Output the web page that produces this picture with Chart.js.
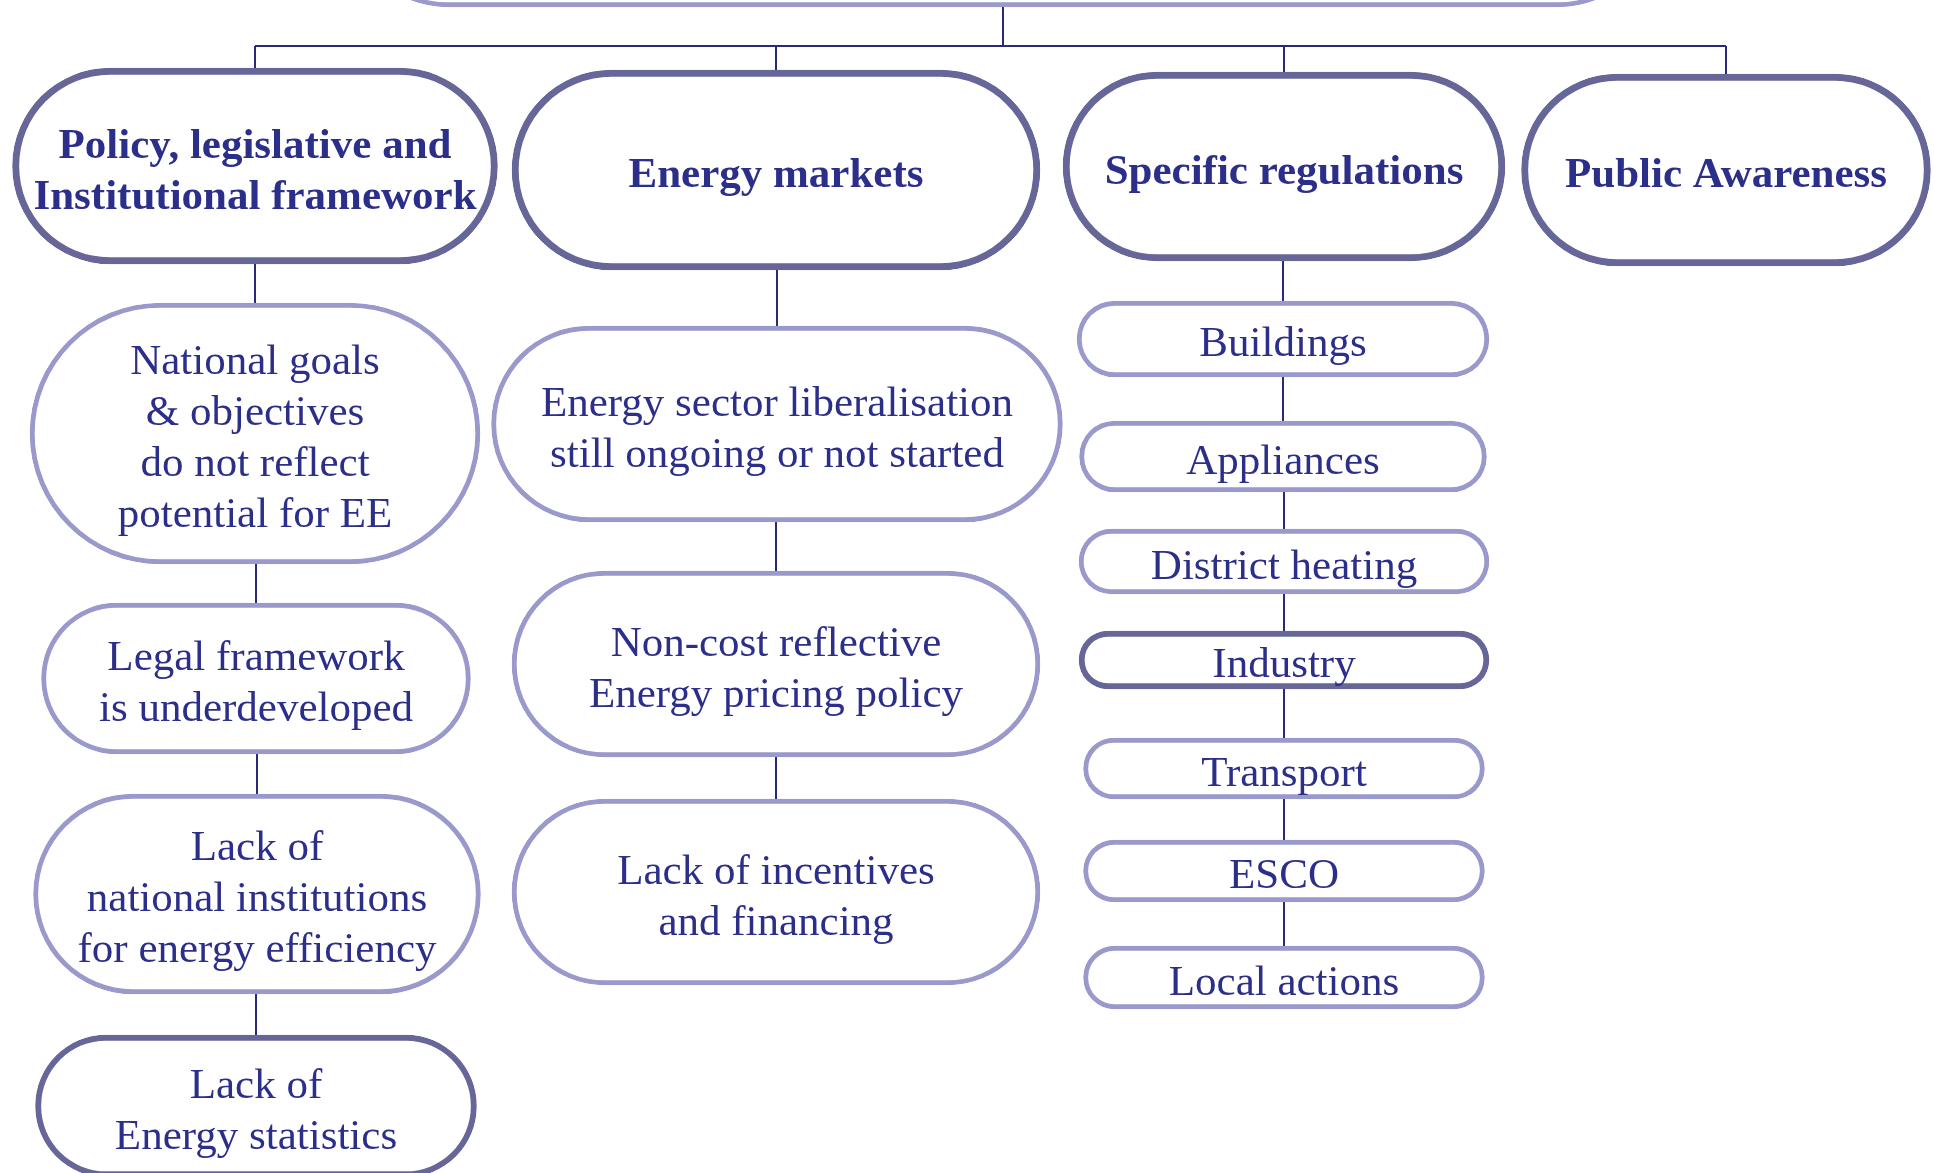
<!DOCTYPE html>
<html>
<head>
<meta charset="utf-8">
<title>Barriers to energy efficiency</title>
<script src="https://cdn.jsdelivr.net/npm/chart.js@4.4.1/dist/chart.umd.min.js"></script>
<style>
  html, body { margin: 0; padding: 0; background: #ffffff; }
  #wrap { width: 1934px; height: 1173px; }
</style>
</head>
<body>
<div id="wrap"><canvas id="diagram"></canvas></div>
<script>
// diagram boxes, in axis units (both axes span the page)
const nodeLabels = [
    '',
    'Policy, legislative and\nInstitutional framework',
    'Energy markets',
    'Specific regulations',
    'Public Awareness',
    'National goals\n& objectives\ndo not reflect\npotential for EE',
    'Legal framework\nis underdeveloped',
    'Lack of\nnational institutions\nfor energy efficiency',
    'Lack of\nEnergy statistics',
    'Energy sector liberalisation\nstill ongoing or not started',
    'Non-cost reflective\nEnergy pricing policy',
    'Lack of incentives\nand financing',
    'Buildings',
    'Appliances',
    'District heating',
    'Industry',
    'Transport',
    'ESCO',
    'Local actions'
];
const nodeParent = [-1, 0, 0, 0, 0, 1, 5, 6, 7, 2, 9, 10, 3, 12, 13, 14, 15, 16, 17];
const nodeX = [1003, 255, 776, 1284, 1726, 255, 256, 257, 256, 777, 776, 776, 1283, 1283, 1284, 1284, 1284, 1284, 1284];
const nodeSpan = [
    [-200, 7], [68, 264], [70, 270], [72, 261], [74, 266],
    [303, 564], [603, 754], [794, 994], [1035, 1177],
    [326, 522], [571, 757], [799, 985],
    [301, 377], [421, 492], [529, 594], [631, 689], [738, 799], [840, 902], [946, 1009]
];
const nodeWidth = [1316, 485, 528, 442, 409, 450, 429, 447, 441, 571, 528, 528, 412, 407, 410, 410, 401, 401, 401];
const emphasised = ['Industry', 'Lack of\nEnergy statistics'];
const busY = 46;

const DARK = '#666699';
const LIGHT = '#9999cc';
const LINK = '#29297a';
const TEXT = '#2c2f8a';
const LINE_H = 51;

// connector lines, broken with null points
const linkPoints = [];
function seg(x1, y1, x2, y2) {
    linkPoints.push({ x: x1, y: y1 }, { x: x2, y: y2 }, { x: x2, y: null });
}

const topKids = [];
nodeParent.forEach((p, i) => {
    if (p === 0) {
        topKids.push(i);
        seg(nodeX[i], busY, nodeX[i], nodeSpan[i][0]);
    } else if (p > 0) {
        seg(nodeX[i], nodeSpan[p][1], nodeX[i], nodeSpan[i][0]);
    }
});
seg(nodeX[0], nodeSpan[0][1], nodeX[0], busY);
const kidX = topKids.map(i => nodeX[i]);
seg(Math.min(...kidX), busY, Math.max(...kidX), busY);

const boxSets = nodeLabels.map((label, i) => {
    const main = nodeParent[i] === 0;
    const dark = main || emphasised.includes(label);
    return {
        type: 'bar',
        label: label,
        data: [{ x: nodeX[i], y: nodeSpan[i] }],
        stack: 'boxes',
        barThickness: nodeWidth[i],
        backgroundColor: '#ffffff',
        borderColor: dark ? DARK : LIGHT,
        borderWidth: main ? 7 : (dark ? 6 : 5),
        borderSkipped: false,
        borderRadius: { topLeft: 999, topRight: 999, bottomLeft: 999, bottomRight: 999 },
        bold: main,
        order: 1
    };
});

const boxText = {
    id: 'boxText',
    afterDatasetsDraw(chart) {
        const ctx = chart.ctx;
        ctx.save();
        ctx.fillStyle = TEXT;
        ctx.textAlign = 'center';
        ctx.textBaseline = 'middle';
        chart.data.datasets.forEach((ds, i) => {
            if (ds.type !== 'bar' || !ds.label) return;
            const bar = chart.getDatasetMeta(i).data[0];
            const lines = ds.label.split('\n');
            const cy = (bar.y + bar.base) / 2 + 6;
            ctx.font = (ds.bold ? 'bold ' : '') + '43px "Liberation Serif", "Times New Roman", serif';
            lines.forEach((t, k) => {
                ctx.fillText(t, bar.x, cy + (k - (lines.length - 1) / 2) * LINE_H);
            });
        });
        ctx.restore();
    }
};

new Chart(document.getElementById('diagram'), {
    type: 'bar',
    data: {
        datasets: [
            {
                type: 'line',
                label: 'links',
                data: linkPoints,
                borderColor: LINK,
                borderWidth: 2,
                pointRadius: 0,
                tension: 0,
                spanGaps: false,
                order: 2
            },
            ...boxSets
        ]
    },
    options: {
        responsive: true,
        maintainAspectRatio: false,
        animation: false,
        layout: { padding: 0 },
        plugins: {
            legend: { display: false },
            tooltip: { enabled: false }
        },
        scales: {
            x: { type: 'linear', min: 0, max: 1934, offset: false, display: false },
            y: { type: 'linear', min: 0, max: 1173, reverse: true, stacked: false, display: false }
        }
    },
    plugins: [boxText]
});
</script>
</body>
</html>
